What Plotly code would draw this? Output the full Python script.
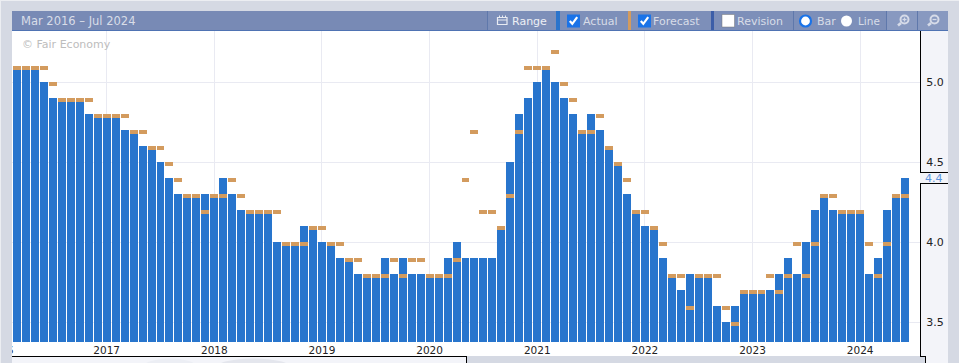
import plotly.graph_objects as go

actual = [5.1,5.1,5.1,5.0,4.9,4.9,4.9,4.9,4.8,4.8,
          4.8,4.8,4.7,4.7,4.6,4.6,4.5,4.4,4.3,4.3,
          4.3,4.3,4.3,4.4,4.3,4.2,4.2,4.2,4.2,4.0,
          4.0,4.0,4.1,4.1,4.0,4.0,3.9,3.9,3.8,3.8,
          3.8,3.9,3.8,3.9,3.8,3.8,3.8,3.8,3.9,4.0,
          3.9,3.9,3.9,3.9,4.1,4.5,4.8,4.9,5.0,5.1,
          5.0,4.9,4.8,4.7,4.8,4.7,4.6,4.5,4.3,4.2,
          4.1,4.1,3.9,3.8,3.7,3.8,3.8,3.8,3.6,3.5,
          3.6,3.7,3.7,3.7,3.7,3.8,3.9,3.8,4.0,4.2,
          4.3,4.2,4.2,4.2,4.2,3.8,3.9,4.2,4.3,4.4]
forecast = [5.1,5.1,5.1,5.1,5.0,4.9,4.9,4.9,4.9,4.8,
            4.8,4.8,4.8,4.7,4.7,4.6,4.6,4.5,4.4,4.3,
            4.3,4.2,4.3,4.3,4.4,4.3,4.2,4.2,4.2,4.2,
            4.0,4.0,4.0,4.1,4.1,4.0,4.0,3.9,3.9,3.8,
            3.8,3.8,3.9,3.8,3.9,3.9,3.8,3.8,3.8,3.9,
            4.4,4.7,4.2,4.2,4.1,4.3,4.7,5.1,5.1,5.1,
            5.2,5.0,4.9,4.7,4.7,4.8,4.6,4.5,4.4,4.2,
            4.2,4.1,4.0,3.8,3.8,3.6,3.8,3.8,3.8,3.6,
            3.5,3.7,3.7,3.7,3.8,3.7,3.8,4.0,3.8,4.0,
            4.3,4.3,4.2,4.2,4.2,4.0,3.8,4.0,4.3,4.3]
year_ticks = [-1.88,10,22,34,46,58,70,82,94]
year_labels = ["2016","2017","2018","2019","2020","2021","2022","2023","2024"]
value_ticks = [3.5,4.0,4.5,5.0]
value_labels = ["3.5","4.0","4.5","5.0"]

W,H = 959,363
PL,PR,PT,PB = 0,920,31,342
FONT = "DejaVu Sans"
GRAY = "#d5d9e3"
PANEL = "#f3f4f9"
months = list(range(len(actual)))
MARK = 0.025
BAR_WIDTH = 0.8874

def px(x): return (x-PL)/(PR-PL)
def py(y): return (PB-y)/(PB-PT)

shapes = []
def rect(x0,y0,x1,y1,fill,layer="above",line=None):
    shapes.append(dict(type="rect",xref="paper",yref="paper",x0=px(x0),x1=px(x1),y0=py(y0),y1=py(y1),
        fillcolor=fill,line=dict(width=0) if line is None else line,layer=layer))
def path(pts,color,width=1.5,fill=None,close=False):
    d = "M "+" L ".join(f"{px(a):.5f},{py(b):.5f}" for a,b in pts)+(" Z" if close else "")
    shapes.append(dict(type="path",xref="paper",yref="paper",path=d,fillcolor=fill,
        line=dict(color=color,width=width),layer="above"))
def circle(cx,cy,r,fill,color,width):
    shapes.append(dict(type="circle",xref="paper",yref="paper",x0=px(cx-r),x1=px(cx+r),y0=py(cy+r),y1=py(cy-r),
        fillcolor=fill,line=dict(color=color,width=width),layer="above"))

# page chrome
rect(0,PB,PR,356,"white","below")
rect(920,31,948,363,PANEL,"below")
rect(0,0,12,363,GRAY)
rect(0,0,1,363,"#eceef2")
rect(0,0,959,1,"#eceef2")
rect(12,357,466,363,PANEL)
for x0,x1,c in ((142,198,"#eceef4"),(215,292,"#e4e6ed")):
    shapes.append(dict(type="circle",xref="paper",yref="paper",x0=px(x0),x1=px(x1),y0=py(378),y1=py(358.5),
        fillcolor=c,line=dict(width=0),layer="above"))
rect(466,356,920,363,GRAY)
rect(920,356,925,363,GRAY)
rect(12,356,467,357,"black")
rect(466,356,467,363,"black")
rect(920,31,921,172,"black")
rect(920,172,948,173,"black")
rect(920,183,948,184,"black")
rect(920,183,921,357,"black")
rect(920,356,926,357,"black")
rect(925,356,926,363,"black")

# header bar
HEAD = "#788ab5"; SEC = "#7d8fb9"; SEP = "#5f78ab"
rect(12,11,948,30,HEAD)
rect(12,30,948,31,"#4f73b3")
rect(487,11,556,30,SEC)
rect(560,11,628,30,SEC)
rect(631,11,711,30,SEC)
rect(714,11,793,30,SEC)
rect(794,11,886,30,SEC)
rect(887,11,917,30,"#8899c0")
rect(918,11,948,30,"#8899c0")
for xs in (487,793,886,917):
    rect(xs,11,xs+1,30,SEP)
rect(556,11,560,30,"#2a74cc")
rect(628,11,631,30,"#d39b5e")
rect(711,11,714,30,"#3c5ea8")

# range icon
path([(497.5,17.5),(497.5,24.5),(507,24.5),(507,17.5)],"#e8ebf2",1.2,close=True)
rect(497.5,19.5,507,20.5,"#e8ebf2")
rect(499,15.5,500,18,"#e8ebf2"); rect(502,15.5,503,18,"#e8ebf2"); rect(505,15.5,506,18,"#e8ebf2")

# checkboxes
def checkbox(x,checked):
    if checked:
        shapes.append(dict(type="rect",xref="paper",yref="paper",x0=px(x),x1=px(x+13),y0=py(27.5),y1=py(14.5),
            fillcolor="#1a73e8",line=dict(color="#1a73e8",width=0),layer="above"))
        path([(x+2.8,21),(x+5.3,23.8),(x+10.2,17.2)],"white",2.2)
    else:
        shapes.append(dict(type="rect",xref="paper",yref="paper",x0=px(x),x1=px(x+12.5),y0=py(27),y1=py(14.5),
            fillcolor="white",line=dict(color="#767676",width=0.5),layer="above"))
checkbox(567,True); checkbox(638,True); checkbox(722,False)

# radios
circle(805.5,21,5.5,"white","#1a73e8",2.2)
circle(846.5,21,5.5,"white","white",0)

# magnifiers
for cx,plus in ((903,True),(933,False)):
    circle(cx+1.5,19.5,4.0,"#8899c0","#d6dbe8",2)
    path([(cx-2,23),(cx-5,25.5)],"#d6dbe8",2.6)
    path([(cx-0.5,19.5),(cx+3.5,19.5)],"#d6dbe8",1.3)
    if plus:
        path([(cx+1.5,17.5),(cx+1.5,21.5)],"#d6dbe8",1.3)

annotations = []
def label(x,y,text,color,size=11,anchor="left"):
    annotations.append(dict(xref="paper",yref="paper",x=px(x),y=py(y),text=text,showarrow=False,
        xanchor=anchor,yanchor="middle",borderpad=0,
        font=dict(family=FONT,size=size,color=color)))
TXT = "#d8dde8"
label(20,21,"Mar 2016 – Jul 2024",TXT,11.5)
label(21,44,"© Fair Economy","#bdbdbd",11)
label(511,21,"Range","#eef0f5",11)
label(582,21,"Actual",TXT,11)
label(652,21,"Forecast",TXT,11)
label(736,21,"Revision",TXT,11)
label(816,21,"Bar",TXT,11)
label(857,21,"Line",TXT,10.5)
label(934,178,"4.4","#5b93dd",11,"center")

fig = go.Figure()
fig.add_bar(x=months,y=actual,width=BAR_WIDTH,marker=dict(color="#2472cc",opacity=0.98,line=dict(width=0)),name="Actual")
fig.add_bar(x=months,y=[MARK]*len(forecast),base=[f-MARK for f in forecast],width=BAR_WIDTH,
            marker=dict(color="#d39b5e",line=dict(width=0)),name="Forecast")
fig.update_layout(
    width=W,height=H,barmode="overlay",bargap=0,showlegend=False,
    margin=dict(l=PL,r=W-PR,t=PT,b=H-PB,pad=0,autoexpand=False),
    paper_bgcolor=GRAY,plot_bgcolor="white",
    font=dict(family=FONT,size=11,color="#222"),
    xaxis=dict(range=[-1.893,100.67],tickmode="array",tickvals=year_ticks,ticktext=year_labels,
               showgrid=True,gridcolor="#e9eaf2",gridwidth=1,zeroline=False,showline=False,
               ticklabeloverflow="allow",ticklabelstandoff=-3,
               ticks="outside",ticklen=1,tickcolor="rgba(0,0,0,0)",tickfont=dict(size=10.5,family=FONT,color="#222")),
    yaxis=dict(side="right",range=[3.375,5.31875],tickmode="array",tickvals=value_ticks,ticktext=value_labels,
               showgrid=True,gridcolor="#e9eaf2",gridwidth=1,zeroline=False,showline=False,
               ticks="outside",ticklen=3,tickcolor="rgba(0,0,0,0)",tickfont=dict(size=11,family=FONT,color="#222")),
    shapes=shapes,annotations=annotations,hovermode=False,
)
fig.write_html("out.html",config=dict(displayModeBar=False),
    post_script="document.body.style.margin='0';document.body.style.overflow='hidden';")
